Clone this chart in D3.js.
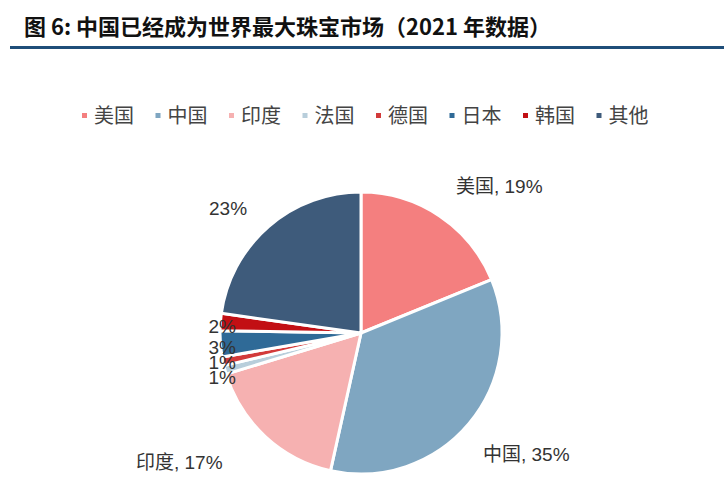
<!DOCTYPE html>
<html lang="zh">
<head>
<meta charset="UTF-8">
<script src="https://cdn.jsdelivr.net/npm/d3@7"></script>
<style>
  body { margin: 0; background: #fff; }
  text { font-family: "Liberation Sans", "Noto Sans CJK SC", sans-serif; }
</style>
</head>
<body>
<script>
var categories = ["美国", "中国", "印度", "法国", "德国", "日本", "韩国", "其他"];
var values = [19, 35, 17, 1, 1, 3, 2, 23];
var colors = ["#f47f7f", "#7fa6c1", "#f6b1b1", "#b8cedb", "#d23a3a", "#2f6a97", "#c20f14", "#3e5b7b"];

var W = 724, H = 487, cx = 361, cy = 333, r = 141;

var svg = d3.select("body").append("svg").attr("width", W).attr("height", H);

// title
svg.append("text").attr("x", 24).attr("y", 35)
  .style("font-family", "'Noto Sans CJK SC', serif").style("font-weight", "bold")
  .style("font-size", "22px").attr("fill", "#111")
  .text("图 6: 中国已经成为世界最大珠宝市场（2021 年数据）");
svg.append("rect").attr("x", 10).attr("y", 46).attr("width", 714).attr("height", 3).attr("fill", "#1f4e79");

// legend
var lg = svg.append("g").attr("transform", "translate(82,123)");
var xoff = 0;
categories.forEach(function (c, i) {
  lg.append("rect").attr("x", xoff).attr("y", -10).attr("width", 5).attr("height", 5).attr("fill", colors[i]);
  lg.append("text").attr("x", xoff + 12).attr("y", 0).style("font-size", "20px").attr("fill", "#444").text(c);
  xoff += 73.5;
});

var pie = d3.pie().sort(null).value(function (d) { return d; });
var arcs = pie(values);
var arc = d3.arc().innerRadius(0).outerRadius(r);

var g = svg.append("g").attr("transform", "translate(" + cx + "," + cy + ")");
g.selectAll("path").data(arcs).enter().append("path")
  .attr("d", arc)
  .attr("fill", function (d, i) { return colors[i]; })
  .attr("stroke", "#fff").attr("stroke-width", 3).attr("stroke-linejoin", "round");

// labels: big slices placed by hand-ish offsets, small ones stacked on the left
var labelArc = d3.arc().innerRadius(r + 10).outerRadius(r + 10);
var big = { 0: [95, -140], 1: [122, 128], 2: [-225, 136], 7: [-152, -118] };
var lastY = Infinity;
arcs.forEach(function (d, i) {
  var txt = (i <= 2 ? categories[i] + ", " : "") + values[i] + "%";
  var x, y, anchor = "start";
  if (big[i]) {
    x = big[i][0]; y = big[i][1];
  } else {
    y = labelArc.centroid(d)[1] + 12;
    if (y > lastY - 15) y = lastY - 15;
    lastY = y;
    x = -r + 16; anchor = "end";
  }
  g.append("text").attr("x", x).attr("y", y).attr("text-anchor", anchor)
    .style("font-size", "19px").attr("fill", "#333").text(txt);
});
</script>
</body>
</html>
